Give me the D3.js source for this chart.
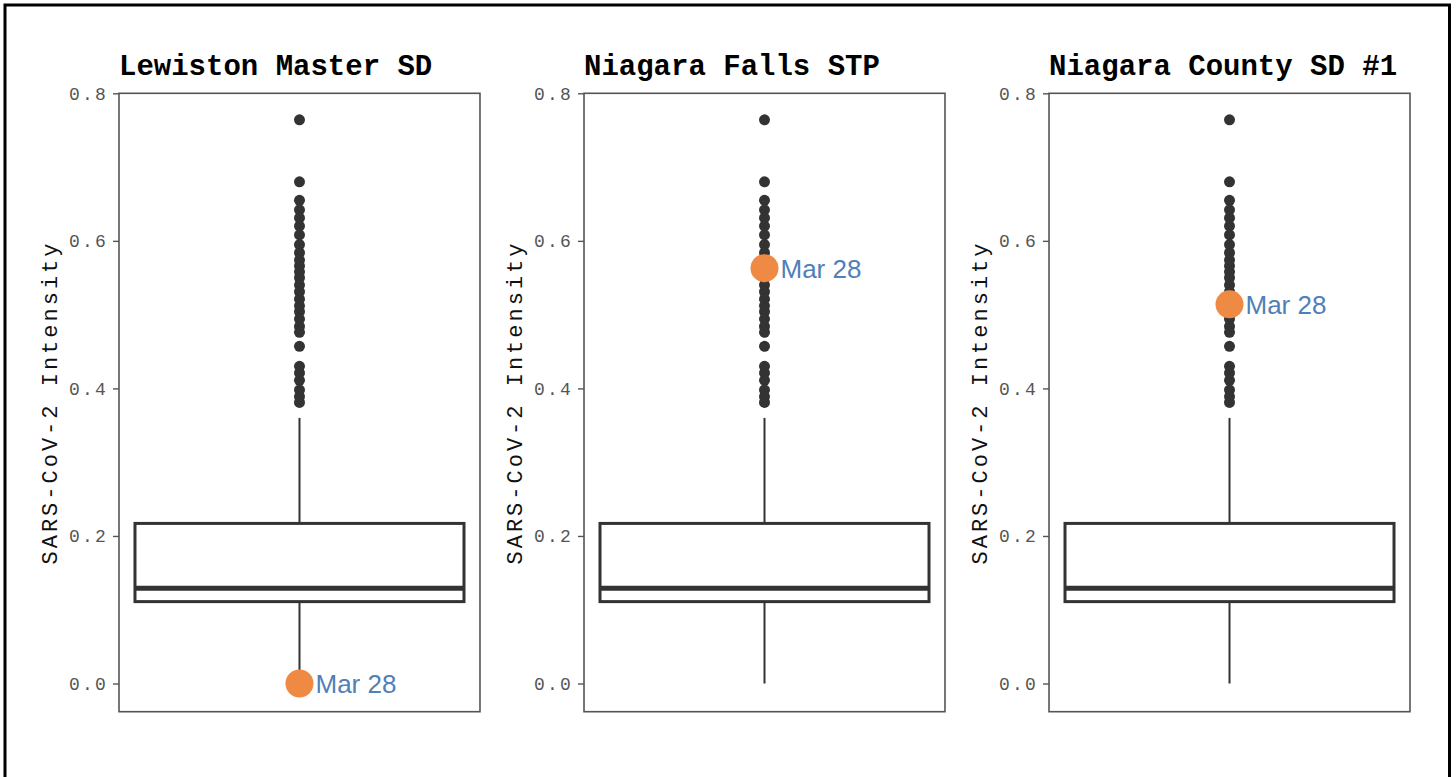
<!DOCTYPE html>
<html>
<head>
<meta charset="utf-8">
<script src="https://cdn.jsdelivr.net/npm/d3@7"></script>
<style>
  html, body { margin: 0; padding: 0; background: #fff; }
  svg { display: block; }
</style>
</head>
<body>
<svg id="chart" width="1456" height="777"></svg>
<script>
// ---- data ----
const panelNames = ["Lewiston Master SD", "Niagara Falls STP", "Niagara County SD #1"];
// [lower whisker, Q1, median, Q3, upper whisker]
const boxStats = [0.0, 0.111, 0.129, 0.217, 0.36];
const outliers = [0.764, 0.680, 0.655, 0.642, 0.631, 0.620, 0.608, 0.595, 0.584, 0.574,
  0.566, 0.558, 0.550, 0.540, 0.531, 0.521, 0.512, 0.504, 0.494, 0.484, 0.476,
  0.457, 0.430, 0.421, 0.411, 0.398, 0.389, 0.381];
const highlightValues = [0.0, 0.563, 0.514];
const highlightLabel = "Mar 28";
const yTicks = [0.0, 0.2, 0.4, 0.6, 0.8];
const yLabel = "SARS-CoV-2 Intensity";

// ---- layout ----
const svg = d3.select("#chart");

// outer frame
svg.append("rect").attr("x", 5).attr("y", 5).attr("width", 1444.5).attr("height", 820)
  .attr("fill", "none").attr("stroke", "#000").attr("stroke-width", 3);

const panelX = d3.scaleBand().domain(panelNames).range([119, 1410]).paddingInner(0.2237).paddingOuter(0);
const y = d3.scaleLinear().domain([-0.0382, 0.8]).range([711.7, 93.3]);

panelNames.forEach((name, i) => {
  const g = svg.append("g").attr("transform", `translate(${panelX(name)},0)`);
  const pw = panelX.bandwidth();
  const bx = d3.scaleBand().domain([name]).range([0, pw]).paddingInner(0).paddingOuter(0.0486);
  const cx = bx(name) + bx.bandwidth() / 2;

  // panel border
  g.append("rect").attr("x", 0).attr("y", y.range()[1]).attr("width", pw)
    .attr("height", y.range()[0] - y.range()[1])
    .attr("fill", "none").attr("stroke", "#555").attr("stroke-width", 1.6);

  // y axis
  const axis = d3.axisLeft(y).tickValues(yTicks).tickFormat(d3.format(".1f")).tickSize(6).tickPadding(5);
  const ag = g.append("g").call(axis);
  ag.select(".domain").remove();
  ag.selectAll(".tick line").attr("stroke", "#555").attr("stroke-width", 1.4);
  ag.selectAll(".tick text")
    .attr("font-family", "'Liberation Mono', 'Courier New', monospace")
    .attr("font-size", 18).attr("fill", "#555").attr("letter-spacing", 2.2);

  // y label
  g.append("text")
    .attr("transform", `translate(${-62},${(y.range()[0] + y.range()[1]) / 2}) rotate(-90)`)
    .attr("text-anchor", "middle")
    .attr("font-family", "'Liberation Mono', 'Courier New', monospace")
    .attr("font-size", 22).attr("letter-spacing", 3).attr("fill", "#111")
    .text(yLabel);

  // title
  g.append("text").attr("x", 0).attr("y", 75)
    .attr("font-family", "'Liberation Mono', 'Courier New', monospace")
    .attr("font-weight", "bold").attr("font-size", 29).attr("fill", "#000")
    .text(name);

  const [lo, q1, med, q3, hi] = boxStats;
  // whiskers
  g.append("line").attr("x1", cx).attr("x2", cx).attr("y1", y(q3)).attr("y2", y(hi))
    .attr("stroke", "#333").attr("stroke-width", 2);
  g.append("line").attr("x1", cx).attr("x2", cx).attr("y1", y(q1)).attr("y2", y(lo))
    .attr("stroke", "#333").attr("stroke-width", 2);
  // box
  g.append("rect").attr("x", bx(name)).attr("y", y(q3)).attr("width", bx.bandwidth())
    .attr("height", y(q1) - y(q3)).attr("fill", "#fff").attr("stroke", "#333").attr("stroke-width", 3);
  g.append("line").attr("x1", bx(name)).attr("x2", bx(name) + bx.bandwidth())
    .attr("y1", y(med)).attr("y2", y(med)).attr("stroke", "#333").attr("stroke-width", 5);

  // outliers
  g.selectAll("circle.out").data(outliers).enter().append("circle")
    .attr("class", "out").attr("cx", cx).attr("cy", d => y(d)).attr("r", 5.5).attr("fill", "#333");

  // highlight
  const hv = highlightValues[i];
  g.append("circle").attr("cx", cx).attr("cy", y(hv)).attr("r", 14).attr("fill", "#ef8a45");
  g.append("text").attr("x", cx + 16).attr("y", y(hv)).attr("dy", "0.36em")
    .attr("font-family", "'Liberation Sans', Arial, Helvetica, sans-serif")
    .attr("font-size", 26).attr("fill", "#4f80b8")
    .text(highlightLabel);
});
</script>
</body>
</html>
